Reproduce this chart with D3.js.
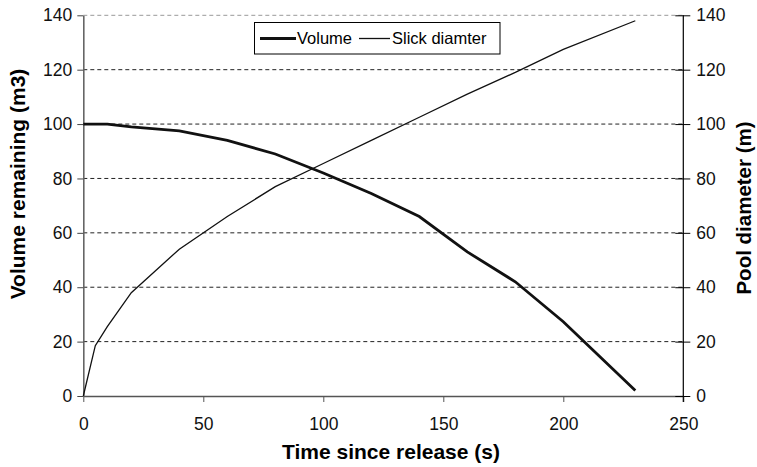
<!DOCTYPE html>
<html><head><meta charset="utf-8">
<script src="https://cdn.jsdelivr.net/npm/d3@7"></script>
<style>body{margin:0;background:#fff}svg{display:block}text{font-family:"Liberation Sans",Arial,sans-serif}</style>
</head><body><svg id="c" width="757" height="467"></svg>
<script>
const time = [0, 10, 20, 40, 60, 80, 100, 120, 140, 160, 180, 200, 230];
const volume = [100, 100, 99, 97.5, 94, 89, 82, 74.5, 66, 53, 42, 27.3, 2];
const slickTime = [0, 5, 10, 20, 40, 60, 80, 100, 120, 140, 160, 180, 200, 230];
const slickDiameter = [0, 18.5, 25.5, 38, 54, 66, 77, 85.5, 94, 102.5, 111, 119, 127.5, 138];
const xTicks = [0, 50, 100, 150, 200, 250];
const yTicks = [0, 20, 40, 60, 80, 100, 120, 140];
const seriesNames = ["Volume", "Slick diamter"];

const svg = d3.select("#c");
const L = 83.3, R = 683.3, T = 15.3, B = 396;
const x = d3.scaleLinear().domain([0, 250]).range([L, R]);
const yL = d3.scaleLinear().domain([0, 140]).range([B, T]);
const yR = d3.scaleLinear().domain([0, 140]).range([B, T]);

// gridlines
svg.append("g").selectAll("line").data(yTicks.filter(d => d > 0)).join("line")
  .attr("x1", L).attr("x2", R).attr("y1", d => yL(d)).attr("y2", d => yL(d))
  .attr("stroke", d => d === 140 ? "#999" : "#222").attr("stroke-width", 1)
  .attr("stroke-dasharray", "4,3");

// bottom axis
const xa = svg.append("g").attr("transform", `translate(0,${B})`)
  .call(d3.axisBottom(x).tickValues(xTicks).tickSize(6).tickPadding(16).tickSizeOuter(0));
xa.select(".domain").attr("stroke", "#555").attr("stroke-width", 1.5);
xa.selectAll(".tick line").attr("stroke", "#555");
xa.selectAll("text").attr("font-size", 17.5).attr("fill", "#111");

// left axis
const ya = svg.append("g").attr("transform", `translate(${L},0)`)
  .call(d3.axisLeft(yL).tickValues(yTicks).tickSize(6).tickPadding(5).tickSizeOuter(0));
ya.select(".domain").attr("stroke", "#666").attr("stroke-width", 1.6);
ya.selectAll(".tick line").attr("stroke", "#444");
ya.selectAll("text").attr("font-size", 17.5).attr("fill", "#111");

// right axis
const yra = svg.append("g").attr("transform", `translate(${R},0)`)
  .call(d3.axisRight(yR).tickValues(yTicks).tickSize(7).tickPadding(6).tickSizeOuter(0));
yra.select(".domain").attr("stroke", "#000").attr("stroke-width", 1.2).attr("d", `M0,${T}V${B + 6}`);
yra.selectAll(".tick line").attr("x1", -8).attr("x2", 7).attr("stroke", "#000");
yra.selectAll("text").attr("font-size", 17.5).attr("fill", "#111");

// lines
const lineV = d3.line().x((d, i) => x(time[i])).y(d => yL(d));
const lineS = d3.line().x((d, i) => x(slickTime[i])).y(d => yR(d));
svg.append("path").attr("d", lineS(slickDiameter)).attr("fill", "none").attr("stroke", "#111").attr("stroke-width", 1.3);
svg.append("path").attr("d", lineV(volume)).attr("fill", "none").attr("stroke", "#111").attr("stroke-width", 2.8);

// legend
const lg = svg.append("g");
lg.append("rect").attr("x", 254.5).attr("y", 22.5).attr("width", 245.5).attr("height", 31.5).attr("fill", "#fff").attr("stroke", "#000").attr("stroke-width", 1);
lg.append("line").attr("x1", 260).attr("x2", 296).attr("y1", 38.5).attr("y2", 38.5).attr("stroke", "#111").attr("stroke-width", 2.8);
lg.append("text").attr("x", 297).attr("y", 44.3).attr("font-size", 16.5).text(seriesNames[0]);
lg.append("line").attr("x1", 359).attr("x2", 390).attr("y1", 38.5).attr("y2", 38.5).attr("stroke", "#111").attr("stroke-width", 1.3);
lg.append("text").attr("x", 392).attr("y", 44.3).attr("font-size", 16.5).text(seriesNames[1]);

// titles
svg.append("text").attr("x", 391).attr("y", 459).attr("text-anchor", "middle")
  .attr("font-size", 21).attr("font-weight", "bold").text("Time since release (s)");
svg.append("text").attr("transform", "translate(25,184) rotate(-90)").attr("text-anchor", "middle")
  .attr("font-size", 21).attr("font-weight", "bold").text("Volume remaining (m3)");
svg.append("text").attr("transform", "translate(751,208) rotate(-90)").attr("text-anchor", "middle")
  .attr("font-size", 20.5).attr("font-weight", "bold").text("Pool diameter (m)");
</script></body></html>
